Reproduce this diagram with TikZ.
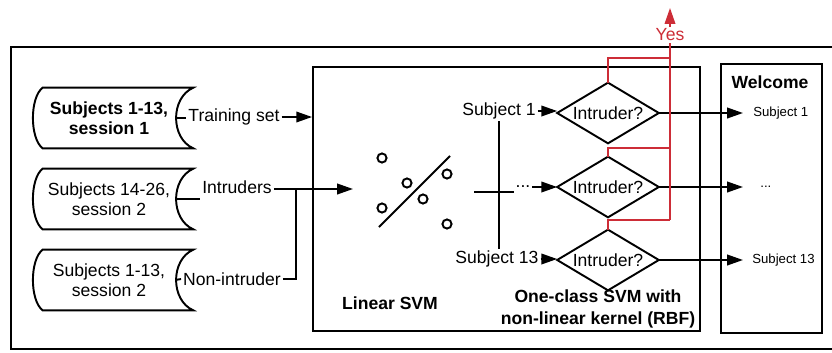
\documentclass[tikz,border=0pt]{standalone}
\usepackage{fontspec}
\setmainfont{Liberation Sans}
\usepackage{xcolor}
\usetikzlibrary{arrows.meta}
\definecolor{yesred}{RGB}{205,45,55}

\begin{document}
\begin{tikzpicture}[x=0.02cm, y=-0.02cm,
		font=\fontsize{10}{11.5}\selectfont,
		>={Triangle[length=9pt,width=6pt]},
		store/.style={minimum width=2.64cm, minimum height=1.2cm, inner sep=0pt, align=center},
		box/.style={draw, line width=1.1pt, inner sep=0pt},
		test/.style={minimum width=2.02cm, minimum height=1.2cm, inner sep=0pt},
		lbl/.style={inner sep=1pt},
		small/.style={font=\fontsize{7.5}{9}\selectfont},
		link/.style={line width=1.1pt},
		redlink/.style={draw=yesred, line width=0.9pt}]
		\useasboundingbox (0, 0) rectangle (832, 352);

		% outer frame, open on the right
		\draw [line width=0.9pt] (832, 47) -- (11, 47) -- (11, 349) -- (832, 349);

		% data sets
		\node[store] (s1) at (109, 118) {\bfseries Subjects 1-13,\\\bfseries session 1};
		\node[store] (s2) at (109, 199) {Subjects 14-26,\\session 2};
		\node[store] (s3) at (109, 280) {Subjects 1-13,\\session 2};
		\foreach \s in {s1, s2, s3}
			\draw [link] (\s.north west) .. controls +(-13, 10) and +(-13, -10) .. (\s.south west)
				-- ([xshift=0.36cm]\s.south east) .. controls +(-23, -10) and +(-23, 10) .. ([xshift=0.36cm]\s.north east) -- cycle;

		% boxes
		\node[box, minimum width=7.74cm, minimum height=5.28cm] (svm) at (506.5, 199) {};
		\node[box, minimum width=2.02cm, minimum height=5.38cm] (welcome) at (771.5, 198.5) {};
		\node[font=\fontsize{10}{11.5}\selectfont\bfseries] (wtitle) at (770, 82) {Welcome};
		\node[font=\fontsize{10}{11.5}\selectfont\bfseries] (lintitle) at (390, 303) {Linear SVM};
		\node[font=\fontsize{10}{12.5}\selectfont\bfseries, align=center] (octitle) at (598, 309) {One-class SVM with\\non-linear kernel (RBF)};

		% inputs
		\node[lbl] (train) at (234, 117) {Training set};
		\node[lbl] (intr) at (237, 187) {Intruders};
		\node[lbl] (nonintr) at (232, 279) {Non-intruder};
		\coordinate (join) at (296, 189);
		\coordinate (svmin) at (353, 189);
		\draw [link] (s1.east) -- (s1.east -| train.west);
		\draw [link, ->] (train.east) -- (train.east -| svm.west);
		\draw [link] (s2.east) -- (s2.east -| intr.west);
		\draw [link] (intr.east |- join) -- (join);
		\draw [link] (s3.east) -- (nonintr.west);
		\draw [link] (nonintr.east) -| (join);
		\draw [link, ->] (join) -- (svmin);

		% linear SVM sketch
		\draw [line width=1.2pt] (379, 227) -- (450, 156);
		\foreach \px/\py in {382/158, 407/183, 447/174, 423/199, 382/208, 447/224}
			\draw [line width=1.1pt] (\px, \py) circle (2.6pt);

		% per-subject one-class tests
		\node[lbl] (sub1) at (499, 111) {Subject 1};
		\node[lbl] (subdots) at (523, 187) {...};
		\node[lbl] (sub13) at (497, 259) {Subject 13};
		\coordinate (fork) at (474, 192);
		\draw [line width=0.6pt] (sub1.south) -- (sub1.south |- sub13.north);
		\draw [line width=0.6pt] (fork) -- (fork -| subdots.west);

		\node[test] (d1) at (608, 113) {Intruder?};
		\node[test] (d2) at (608, 187) {Intruder?};
		\node[test] (d3) at (608, 260) {Intruder?};
		\foreach \d in {d1, d2, d3}
			\draw [link] (\d.north) -- (\d.east) -- (\d.south) -- (\d.west) -- cycle;
		\draw [link, ->] (sub1.east) -- (sub1.east -| d1.west);
		\draw [link, ->] (subdots.east) -- (d2.west);
		\draw [link, ->] (sub13.east) -- (sub13.east -| d3.west);

		% welcomed subjects
		\node[small, anchor=west, inner xsep=0.2cm] (w1) at (743, 113) {Subject 1};
		\node[small, anchor=west, inner xsep=0.34cm] (w2) at (743, 187) {...};
		\node[small, anchor=west, inner xsep=0.18cm] (w13) at (743, 260) {Subject 13};
		\draw [link, ->] (d1.east) -- (w1.west);
		\draw [link, ->] (d2.east) -- (w2.west);
		\draw [link, ->] (d3.east) -- (w13.west);

		% intruder branch
		\coordinate (r1) at (670, 58);
		\coordinate (r2) at (670, 148);
		\coordinate (r3) at (670, 220);
		\coordinate (alarm) at (670, 8);
		\draw [redlink] (d1.north) |- (r1);
		\draw [redlink] (d2.north) |- (r2);
		\draw [redlink] (d3.north) |- (r3);
		\draw [redlink, ->, yesred] (r3) -- (alarm);
		\node[fill=white, text=yesred, inner sep=1pt] (yes) at (670, 35) {Yes};
\end{tikzpicture}
\end{document}
